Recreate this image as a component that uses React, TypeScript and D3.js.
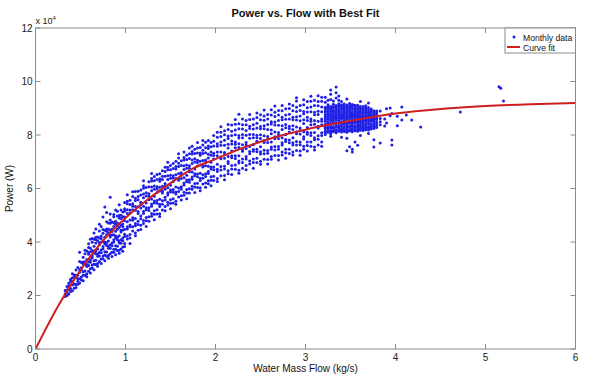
import React from 'react';
import * as d3 from 'd3';

const W = 602;
const H = 382;

const xTicks = [0, 1, 2, 3, 4, 5, 6];
const yTicks = [0, 2, 4, 6, 8, 10, 12];

// Curve fit (power in units of 1e4 W)
const fitX = [0, 0.25, 0.5, 0.75, 1, 1.25, 1.5, 1.75, 2, 2.25, 2.5, 2.75, 3, 3.25, 3.5, 4, 4.5, 5, 5.5, 6];
const fitY = [0, 1.6, 2.95, 4.05, 4.9, 5.6, 6.2, 6.75, 7.1, 7.45, 7.75, 8.0, 8.2, 8.38, 8.53, 8.8, 8.97, 9.08, 9.15, 9.2];

// Monthly data: [flow, [power values ...]] (power in 1e4 W)
const dataLow: [number, number[]][] = [
  [0.33, [1.96, 2.07, 2.19]],
  [0.35, [2.0, 2.21, 2.34, 2.12]],
  [0.37, [2.06, 2.22, 2.46, 2.36]],
  [0.39, [2.15, 2.26, 2.53, 2.61]],
  [0.41, [2.18, 2.39, 2.52, 2.81, 2.66]],
  [0.43, [2.27, 2.43, 2.67, 2.77]],
  [0.45, [2.3, 2.41, 2.68, 2.76, 2.95]],
  [0.47, [2.42, 2.63, 2.76, 3.05, 2.53]],
  [0.49, [2.47, 2.63, 2.87, 2.97, 3.27, 3.62]],
  [0.51, [2.58, 2.69, 2.96, 3.04, 3.23]],
  [0.53, [2.55, 2.76, 2.89, 3.18, 3.25, 3.43]],
  [0.55, [2.76, 2.92, 3.16, 3.26, 3.56, 3.69]],
  [0.57, [2.7, 2.81, 3.08, 3.16, 3.35, 3.66]],
  [0.59, [2.91, 3.12, 3.25, 3.54, 3.61, 3.79, 3.93]],
  [0.61, [2.84, 3.0, 3.24, 3.34, 3.64, 3.77, 4.1]],
  [0.63, [3.03, 3.14, 3.41, 3.49, 3.68, 3.99, 4.13]],
  [0.65, [2.96, 3.17, 3.3, 3.59, 3.66, 3.84, 4.1, 4.34]],
  [0.67, [3.16, 3.32, 3.56, 3.66, 3.96, 4.09, 4.18, 4.49]],
  [0.69, [3.09, 3.2, 3.47, 3.55, 3.74, 4.05, 4.19]],
  [0.71, [3.27, 3.48, 3.61, 3.9, 3.97, 4.15, 4.41, 4.66]],
  [0.73, [3.2, 3.36, 3.6, 3.7, 4.0, 4.13, 4.22, 4.58]],
  [0.75, [3.37, 3.48, 3.75, 3.83, 4.02, 4.33, 4.47, 4.93]],
  [0.77, [3.3, 3.51, 3.64, 3.93, 4.0, 4.18, 4.44, 5.31]],
  [0.79, [3.47, 3.63, 3.87, 3.97, 4.27, 4.4, 4.49, 4.76, 5.1]],
  [0.81, [3.39, 3.5, 3.77, 3.85, 4.04, 4.35, 4.49, 4.71]],
  [0.83, [3.56, 3.77, 3.9, 4.19, 4.26, 4.44, 4.7, 4.82, 5.67, 5.05]],
  [0.85, [3.46, 3.62, 3.86, 3.96, 4.26, 4.39, 4.48, 4.75]],
  [0.87, [3.62, 3.73, 4.0, 4.08, 4.27, 4.58, 4.72, 4.94, 5.03]],
  [0.89, [3.52, 3.73, 3.86, 4.15, 4.22, 4.4, 4.66, 4.78, 5.2]],
  [0.91, [3.68, 3.84, 4.08, 4.18, 4.48, 4.61, 4.7, 4.97, 5.15]],
  [0.93, [3.58, 3.69, 3.96, 4.04, 4.23, 4.54, 4.68, 4.9, 4.99, 5.39]],
  [0.95, [3.74, 3.95, 4.08, 4.37, 4.44, 4.62, 4.88, 5.0, 5.2]],
  [0.97, [3.65, 3.81, 4.05, 4.15, 4.45, 4.58, 4.67, 4.94, 5.12]],
  [0.99, [3.83, 3.94, 4.21, 4.29, 4.48, 4.79, 4.93, 5.15, 5.24, 5.48]],
];

const dataMid: [number, number[]][] = [
  [1.02, [4.11, 4.22, 4.49, 4.57, 4.76, 5.07, 5.21, 5.43, 5.52, 5.77]],
  [1.05, [3.94, 4.15, 4.28, 4.57, 4.64, 4.82, 5.08, 5.2, 5.4, 5.56]],
  [1.08, [4.41, 4.57, 4.81, 4.91, 5.21, 5.34, 5.43, 5.7, 5.88]],
  [1.11, [4.23, 4.34, 4.61, 4.69, 4.88, 5.19, 5.33, 5.55, 5.64, 5.89]],
  [1.14, [4.44, 4.65, 4.78, 5.07, 5.14, 5.32, 5.58, 5.7, 5.9]],
  [1.17, [4.47, 4.63, 4.87, 4.97, 5.27, 5.4, 5.49, 5.76, 5.94]],
  [1.2, [4.69, 4.8, 5.07, 5.15, 5.34, 5.65, 5.79, 6.01, 6.1, 6.29]],
  [1.23, [4.58, 4.79, 4.92, 5.21, 5.28, 5.46, 5.72, 5.84, 6.04]],
  [1.26, [4.78, 4.94, 5.18, 5.28, 5.58, 5.71, 5.8, 6.07, 6.25]],
  [1.29, [4.96, 5.07, 5.34, 5.42, 5.61, 5.92, 6.06, 6.28, 6.37, 6.56]],
  [1.32, [4.83, 5.04, 5.17, 5.46, 5.53, 5.71, 5.97, 6.09, 6.29, 6.45]],
  [1.35, [5.05, 5.21, 5.45, 5.55, 5.85, 5.98, 6.07, 6.34, 6.52]],
  [1.38, [4.95, 5.06, 5.33, 5.41, 5.6, 5.91, 6.05, 6.27, 6.36, 6.55]],
  [1.41, [5.2, 5.41, 5.54, 5.83, 5.9, 6.08, 6.34, 6.46, 6.66]],
  [1.44, [5.17, 5.33, 5.57, 5.67, 5.97, 6.1, 6.19, 6.46, 6.64, 6.79]],
  [1.47, [5.38, 5.49, 5.76, 5.84, 6.03, 6.34, 6.48, 6.7, 6.79, 6.98]],
  [1.5, [5.24, 5.45, 5.58, 5.87, 5.94, 6.12, 6.38, 6.5, 6.7, 6.86]],
  [1.53, [5.46, 5.62, 5.86, 5.96, 6.26, 6.39, 6.48, 6.75, 6.93]],
  [1.56, [5.41, 5.52, 5.79, 5.87, 6.06, 6.37, 6.51, 6.73, 6.82, 7.02]],
  [1.59, [5.68, 5.89, 6.02, 6.31, 6.38, 6.56, 6.82, 6.94, 7.14, 7.3]],
  [1.62, [5.57, 5.73, 5.97, 6.07, 6.37, 6.5, 6.59, 6.86, 7.04]],
  [1.65, [5.75, 5.86, 6.13, 6.21, 6.4, 6.71, 6.85, 7.07, 7.16, 7.36]],
  [1.68, [5.62, 5.83, 5.96, 6.25, 6.32, 6.5, 6.76, 6.88, 7.08, 7.24]],
  [1.71, [5.83, 5.99, 6.23, 6.33, 6.63, 6.76, 6.85, 7.12, 7.3, 7.51]],
  [1.74, [5.97, 6.08, 6.35, 6.43, 6.62, 6.93, 7.07, 7.29, 7.38, 7.58]],
  [1.77, [5.85, 6.06, 6.19, 6.48, 6.55, 6.73, 6.99, 7.11, 7.31, 7.47]],
  [1.8, [6.04, 6.2, 6.44, 6.54, 6.84, 6.97, 7.06, 7.33, 7.51, 7.72]],
  [1.83, [5.92, 6.03, 6.3, 6.38, 6.57, 6.88, 7.02, 7.24, 7.33, 7.53]],
  [1.86, [6.17, 6.38, 6.51, 6.8, 6.87, 7.05, 7.31, 7.43, 7.63, 7.79]],
  [1.89, [6.05, 6.21, 6.45, 6.55, 6.85, 6.98, 7.07, 7.34, 7.52, 7.73]],
  [1.92, [6.18, 6.29, 6.56, 6.64, 6.83, 7.14, 7.28, 7.5, 7.59, 7.79]],
  [1.95, [6.1, 6.31, 6.44, 6.73, 6.8, 6.98, 7.24, 7.36, 7.56, 7.72]],
  [1.98, [6.3, 6.46, 6.7, 6.8, 7.1, 7.23, 7.32, 7.59, 7.77, 7.98]],
];

const dataHigh: [number, number[]][] = [
  [2.02, [6.26, 6.37, 6.64, 6.72, 6.91, 7.22, 7.36, 7.58, 7.67, 7.92, 8.1]],
  [2.06, [6.48, 6.69, 6.82, 7.11, 7.18, 7.36, 7.62, 7.74, 7.94, 8.1, 8.31]],
  [2.1, [6.33, 6.49, 6.73, 6.83, 7.13, 7.26, 7.35, 7.62, 7.8, 8.01, 8.16]],
  [2.14, [6.55, 6.66, 6.93, 7.01, 7.2, 7.51, 7.65, 7.87, 7.96, 8.21, 8.39]],
  [2.18, [6.52, 6.73, 6.86, 7.15, 7.22, 7.4, 7.66, 7.78, 7.98, 8.14, 8.37]],
  [2.22, [6.72, 6.88, 7.12, 7.22, 7.52, 7.65, 7.74, 8.01, 8.19, 8.4, 8.58]],
  [2.26, [6.57, 6.68, 6.95, 7.03, 7.22, 7.53, 7.67, 7.89, 7.98, 8.23, 8.42, 8.78]],
  [2.3, [6.76, 6.97, 7.1, 7.39, 7.46, 7.64, 7.9, 8.02, 8.22, 8.38, 8.6]],
  [2.34, [6.7, 6.86, 7.1, 7.2, 7.5, 7.63, 7.72, 7.99, 8.17, 8.38, 8.54]],
  [2.38, [6.92, 7.03, 7.3, 7.38, 7.57, 7.88, 8.02, 8.24, 8.33, 8.58, 8.77]],
  [2.42, [6.76, 6.97, 7.1, 7.39, 7.46, 7.64, 7.9, 8.02, 8.22, 8.38, 8.6]],
  [2.46, [6.97, 7.13, 7.37, 7.47, 7.77, 7.9, 7.99, 8.26, 8.44, 8.65, 8.82]],
  [2.5, [6.91, 7.02, 7.29, 7.37, 7.56, 7.87, 8.01, 8.23, 8.32, 8.57, 8.76]],
  [2.54, [7.09, 7.3, 7.43, 7.72, 7.79, 7.97, 8.23, 8.35, 8.55, 8.71, 8.93]],
  [2.58, [6.92, 7.08, 7.32, 7.42, 7.72, 7.85, 7.94, 8.21, 8.39, 8.6, 8.77]],
  [2.62, [7.09, 7.2, 7.47, 7.55, 7.74, 8.05, 8.19, 8.41, 8.5, 8.75, 8.94]],
  [2.66, [7.23, 7.44, 7.57, 7.86, 7.93, 8.11, 8.37, 8.49, 8.69, 8.85, 9.08]],
  [2.7, [7.07, 7.23, 7.47, 7.57, 7.87, 8.0, 8.09, 8.36, 8.54, 8.75, 8.92]],
  [2.74, [7.25, 7.36, 7.63, 7.71, 7.9, 8.21, 8.35, 8.57, 8.66, 8.91, 9.1]],
  [2.78, [7.13, 7.34, 7.47, 7.76, 7.83, 8.01, 8.27, 8.39, 8.59, 8.75, 8.98]],
  [2.82, [7.31, 7.47, 7.71, 7.81, 8.11, 8.24, 8.33, 8.6, 8.78, 8.99, 9.16]],
  [2.86, [7.25, 7.36, 7.63, 7.71, 7.9, 8.21, 8.35, 8.57, 8.66, 8.91, 9.1]],
  [2.9, [7.42, 7.63, 7.76, 8.05, 8.12, 8.3, 8.56, 8.68, 8.88, 9.04, 9.27, 9.39]],
  [2.94, [7.24, 7.4, 7.64, 7.74, 8.04, 8.17, 8.26, 8.53, 8.71, 8.92, 9.1]],
  [2.98, [7.47, 7.58, 7.85, 7.93, 8.12, 8.43, 8.57, 8.79, 8.88, 9.13, 9.32]],
  [3.02, [7.4, 7.61, 7.74, 8.03, 8.1, 8.28, 8.54, 8.66, 8.86, 9.02, 9.25]],
  [3.06, [7.58, 7.74, 7.98, 8.08, 8.38, 8.51, 8.6, 8.87, 9.05, 9.26, 9.45]],
  [3.1, [7.44, 7.55, 7.82, 7.9, 8.09, 8.4, 8.54, 8.76, 8.85, 9.1, 9.3]],
  [3.14, [7.63, 7.84, 7.97, 8.26, 8.33, 8.51, 8.77, 8.89, 9.09, 9.25, 9.47]],
  [3.18, [7.58, 7.74, 7.98, 8.08, 8.38, 8.51, 8.6, 8.87, 9.05, 9.26, 9.41]],
];

const dataCluster: [number, number[]][] = [
  [3.22, [8.02, 8.09, 8.14, 8.23, 8.29, 8.37, 8.41, 8.51, 8.57, 8.64, 8.69, 8.77, 8.86, 8.92, 8.99, 9.04, 9.22, 9.41]],
  [3.25, [8.1, 8.15, 8.23, 8.29, 8.39, 8.43, 8.5, 8.59, 8.64, 8.72, 8.78, 8.85, 8.9, 8.99, 9.05, 9.13, 9.3]],
  [3.28, [8.05, 8.12, 8.17, 8.26, 8.32, 8.4, 8.44, 8.54, 8.6, 8.67, 8.72, 8.8, 8.89, 8.95, 9.02, 9.07, 9.33, 9.52, 9.68, 7.95]],
  [3.31, [8.12, 8.17, 8.25, 8.31, 8.41, 8.45, 8.52, 8.61, 8.66, 8.74, 8.8, 8.87, 8.92, 9.01, 9.07, 9.15, 9.27]],
  [3.34, [8.08, 8.15, 8.2, 8.29, 8.35, 8.43, 8.47, 8.57, 8.63, 8.7, 8.75, 8.83, 8.92, 8.98, 9.05, 9.1, 9.38, 9.58, 9.79]],
  [3.37, [8.14, 8.19, 8.27, 8.33, 8.43, 8.47, 8.54, 8.63, 8.68, 8.76, 8.82, 8.89, 8.94, 9.03, 9.09, 9.17, 9.3, 9.46]],
  [3.4, [8.11, 8.18, 8.23, 8.32, 8.38, 8.46, 8.5, 8.6, 8.66, 8.73, 8.78, 8.86, 8.95, 9.01, 9.08, 9.13, 7.92, 9.25]],
  [3.43, [8.13, 8.18, 8.26, 8.32, 8.42, 8.46, 8.53, 8.62, 8.67, 8.75, 8.81, 8.88, 8.93, 9.02, 9.08, 9.16]],
  [3.46, [8.1, 8.17, 8.22, 8.31, 8.37, 8.45, 8.49, 8.59, 8.65, 8.72, 8.77, 8.85, 8.94, 9.0, 9.07, 9.12, 7.41, 7.88, 9.35]],
  [3.49, [8.15, 8.2, 8.28, 8.34, 8.44, 8.48, 8.55, 8.64, 8.69, 8.77, 8.83, 8.9, 8.95, 9.04, 9.1, 9.18, 7.56]],
  [3.52, [8.12, 8.19, 8.24, 8.33, 8.39, 8.47, 8.51, 8.61, 8.67, 8.74, 8.79, 8.87, 8.96, 9.02, 9.09, 9.14, 7.36, 7.47]],
  [3.55, [8.16, 8.21, 8.29, 8.35, 8.45, 8.49, 8.56, 8.65, 8.7, 8.78, 8.84, 8.91, 8.96, 9.05, 9.11, 7.74]],
  [3.58, [8.14, 8.21, 8.26, 8.35, 8.41, 8.49, 8.53, 8.63, 8.69, 8.76, 8.81, 8.89, 8.98, 9.04, 9.11, 7.62]],
  [3.61, [8.18, 8.23, 8.31, 8.37, 8.47, 8.51, 8.58, 8.67, 8.72, 8.8, 8.86, 8.93, 8.98, 9.07, 7.98, 9.25]],
  [3.64, [8.17, 8.24, 8.29, 8.38, 8.44, 8.52, 8.56, 8.66, 8.72, 8.79, 8.84, 8.92, 9.01, 9.07]],
  [3.67, [8.2, 8.25, 8.33, 8.39, 8.49, 8.53, 8.6, 8.69, 8.74, 8.82, 8.88, 8.95, 9.0, 9.09]],
  [3.7, [8.19, 8.26, 8.31, 8.4, 8.46, 8.54, 8.58, 8.68, 8.74, 8.81, 8.86, 8.94, 9.03, 8.06, 9.2]],
  [3.73, [8.22, 8.27, 8.35, 8.41, 8.51, 8.55, 8.62, 8.71, 8.76, 8.84, 8.9, 8.97]],
  [3.76, [8.24, 8.31, 8.36, 8.45, 8.51, 8.59, 8.63, 8.73, 8.79, 8.86, 8.91, 7.55, 7.82]],
  [3.79, [8.28, 8.33, 8.41, 8.47, 8.57, 8.61, 8.68, 8.77, 8.82, 8.9]],
  [3.83, [8.38, 8.5, 8.62, 8.9, 7.7]],
];

const dataTail: [number, number[]][] = [
  [3.88, [8.6, 8.34]],
  [3.9, [8.45, 8.98]],
  [3.94, [9.01, 8.72]],
  [3.96, [7.81, 7.63, 8.8]],
  [4.02, [8.7, 8.35]],
  [4.07, [9.05, 8.56]],
  [4.12, [8.75]],
  [4.18, [8.56]],
  [4.28, [8.3]],
  [4.72, [8.86]],
  [5.15, [9.8]],
  [5.17, [9.75]],
  [5.2, [9.27]],
];

const allData = [...dataLow, ...dataMid, ...dataHigh, ...dataCluster, ...dataTail];

const FONT = "'Liberation Sans', Arial, Helvetica, sans-serif";
const AXIS = '#8a8a8a';
const DOT = '#1e1ee6';
const RED = '#cc2020';

export default function App() {
  const left = 35.5, right = 575.5, top = 28, bottom = 349;
  const x = d3.scaleLinear().domain([0, 6]).range([left, right]);
  const y = d3.scaleLinear().domain([0, 12]).range([bottom, top]);

  const pts: [number, number][] = allData.flatMap(([fx, ys]) => ys.map((v) => [fx, v] as [number, number]));

  const line = d3
    .line<number>()
    .x((_, i) => x(fitX[i]))
    .y((d) => y(d))
    .curve(d3.curveMonotoneX);

  const tk = 5;

  return (
    <svg width={W} height={H} style={{ position: 'absolute', left: 0, top: 0, background: '#fff' }} fontFamily={FONT}>
      <rect x={0} y={0} width={W} height={H} fill="#fff" />
      <g fill={DOT}>
        {pts.map((p, i) => (
          <circle key={i} cx={x(p[0])} cy={y(p[1])} r={1.5} />
        ))}
      </g>
      <path d={line(fitY) || ''} fill="none" stroke={RED} strokeWidth={2} />

      <rect x={left} y={top} width={right - left} height={bottom - top} fill="none" stroke={AXIS} strokeWidth={1} />
      {xTicks.map((t) => (
        <g key={'x' + t}>
          <line x1={x(t)} x2={x(t)} y1={bottom} y2={bottom - tk} stroke={AXIS} />
          <line x1={x(t)} x2={x(t)} y1={top} y2={top + tk} stroke={AXIS} />
          <text x={x(t)} y={bottom + 12} fontSize={10} textAnchor="middle" fill="#222">
            {t}
          </text>
        </g>
      ))}
      {yTicks.map((t) => (
        <g key={'y' + t}>
          <line x1={left} x2={left + tk} y1={y(t)} y2={y(t)} stroke={AXIS} />
          <line x1={right} x2={right - tk} y1={y(t)} y2={y(t)} stroke={AXIS} />
          <text x={left - 3} y={y(t) + 3.5} fontSize={10} textAnchor="end" fill="#222">
            {t}
          </text>
        </g>
      ))}
      <text x={left} y={top - 4} fontSize={9} fill="#222">
        x 10
        <tspan fontSize={6} dy={-4}>4</tspan>
      </text>

      <text x={(left + right) / 2} y={17} fontSize={11} fontWeight="bold" textAnchor="middle" fill="#111">
        Power vs. Flow with Best Fit
      </text>
      <text x={(left + right) / 2} y={372} fontSize={10} textAnchor="middle" fill="#111">
        Water Mass Flow (kg/s)
      </text>
      <text transform={`translate(13,${(top + bottom) / 2}) rotate(-90)`} fontSize={10} textAnchor="middle" fill="#111">
        Power (W)
      </text>

      <rect x={505} y={top} width={right - 505} height={25} fill="#fff" stroke={AXIS} />
      <circle cx={514} cy={37} r={1.5} fill={DOT} />
      <text x={523} y={40.5} fontSize={8.6} fill="#111">Monthly data</text>
      <line x1={507} x2={520} y1={47} y2={47} stroke={RED} strokeWidth={2} />
      <text x={523} y={50.5} fontSize={8.6} fill="#111">Curve fit</text>
    </svg>
  );
}
